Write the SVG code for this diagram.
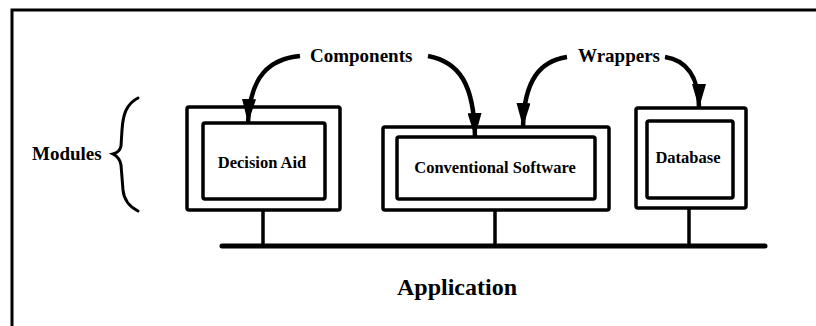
<svg xmlns="http://www.w3.org/2000/svg" width="816" height="326" viewBox="0 0 816 326">
  <style>
    .frame { fill: none; stroke: #000; stroke-width: 3; }
    .box { fill: #fff; stroke: #000; stroke-width: 3.5; }
    .wire { fill: none; stroke: #000; stroke-width: 3.5; }
    .bus { fill: none; stroke: #000; stroke-width: 5; stroke-linecap: round; }
    .arrow { fill: none; stroke: #000; stroke-width: 4.5; marker-end: url(#head); }
    .brace { fill: none; stroke: #000; stroke-width: 3; stroke-linecap: round; }
    text { font-family: "Liberation Serif", "Times New Roman", serif; font-weight: bold; fill: #000; }
    .lbl { font-size: 19px; }
    .inner { font-size: 16.5px; text-anchor: middle; }
    .title { font-size: 24px; text-anchor: middle; }
  </style>
  <defs>
    <marker id="head" markerUnits="userSpaceOnUse" markerWidth="24" markerHeight="14" refX="24" refY="7" viewBox="0 0 24 14" orient="auto">
      <path d="M0,0 L24,7 L0,14 Z" fill="#000"/>
    </marker>
  </defs>

  <!-- enclosing frame: top and left edges only -->
  <path class="frame" d="M12,326 L12,10 L816,10"/>

  <!-- bus line and stems -->
  <g id="bus">
    <path class="bus" d="M222,246 L765,246"/>
    <path class="wire" d="M263,210 L263,246"/>
    <path class="wire" d="M495,210 L495,246"/>
    <path class="wire" d="M689,208 L689,246"/>
  </g>

  <g id="decision-aid">
    <rect class="box" x="187" y="107" width="153" height="103" rx="2"/>
    <rect class="box" x="203" y="123" width="122" height="76" rx="2"/>
    <text class="inner" x="262" y="168">Decision Aid</text>
  </g>

  <g id="conventional-software">
    <rect class="box" x="383" y="127" width="226" height="83" rx="2"/>
    <rect class="box" x="397" y="137" width="198" height="62" rx="2"/>
    <text class="inner" x="495" y="173">Conventional Software</text>
  </g>

  <g id="database">
    <rect class="box" x="636" y="108" width="110" height="100" rx="2"/>
    <rect class="box" x="647" y="121" width="86" height="77" rx="2"/>
    <text class="inner" x="688" y="163">Database</text>
  </g>

  <!-- label arrows: components point at inner boxes, wrappers at outer boxes -->
  <g id="connectors">
    <path class="arrow" d="M300,56 C270,59 250,75 248,123"/>
    <path class="arrow" d="M428,56 C460,62 474,85 475,137"/>
    <path class="arrow" d="M567,57 C540,61 524,80 523,127"/>
    <path class="arrow" d="M665,57 C685,60 699,75 699,108"/>
  </g>

  <g id="labels">
    <text class="lbl" x="310" y="62">Components</text>
    <text class="lbl" x="578" y="62">Wrappers</text>
    <text class="lbl" x="32" y="160">Modules</text>
    <path class="brace" d="M138,98 C126,104 123,115 122,130 L121,146 C120,151 117,153 113,154 C117,156 120,159 121,165 L123,190 C124,200 130,207 138,211"/>
  </g>

  <g id="application">
    <text class="title" x="457" y="295">Application</text>
  </g>
</svg>
